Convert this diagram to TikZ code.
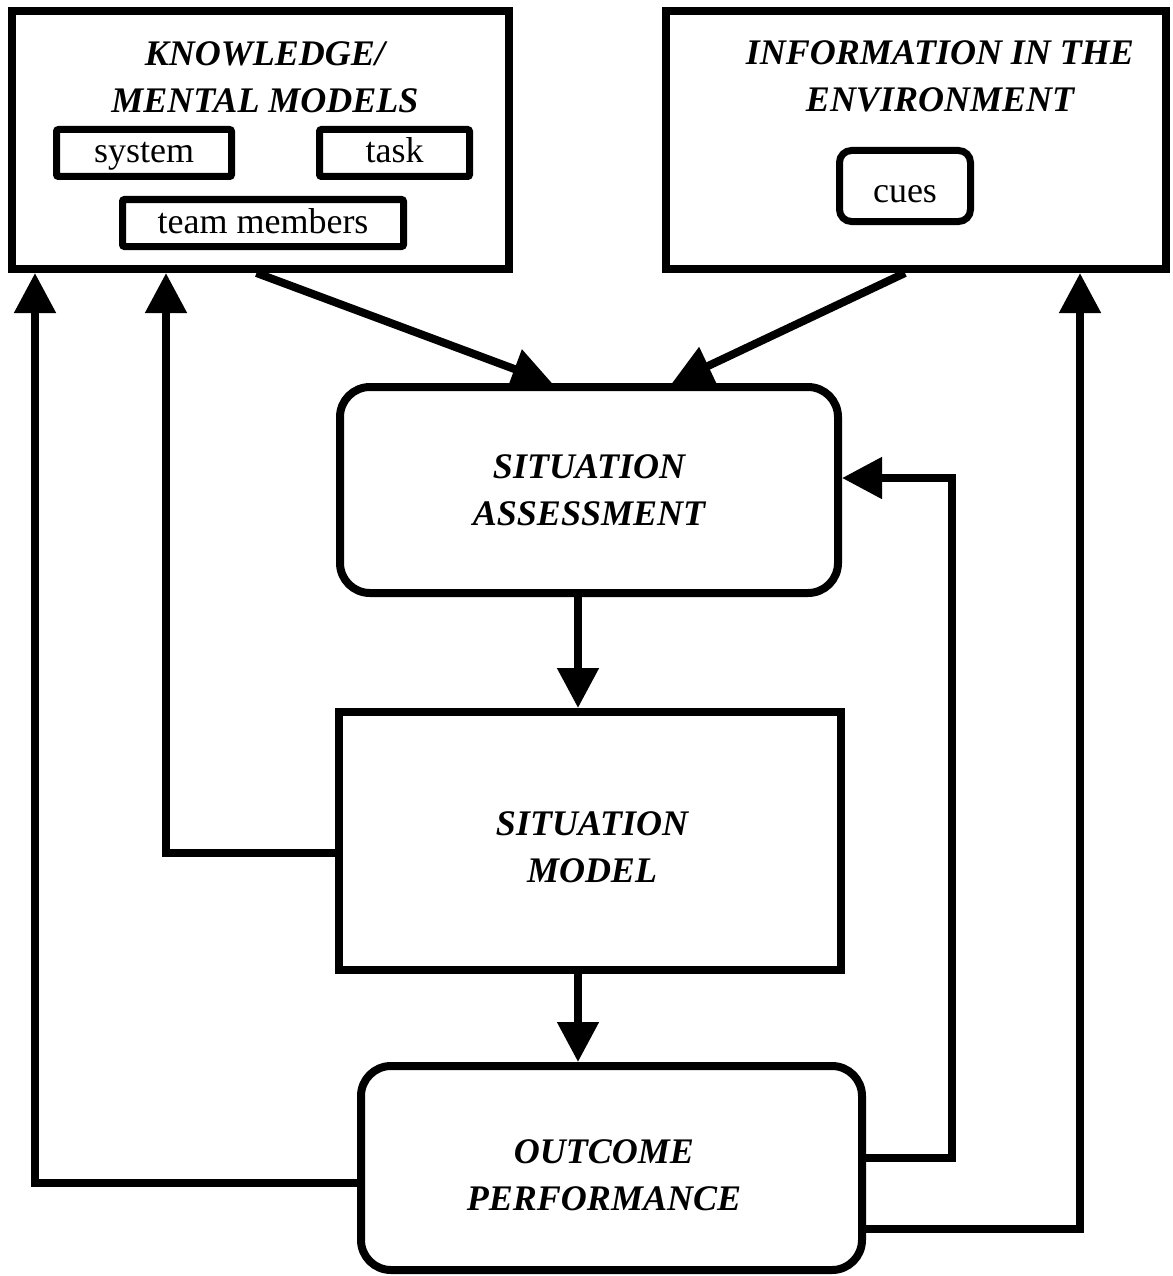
\documentclass[tikz,border=0pt]{standalone}
\usepackage{fontspec}
\setmainfont{Liberation Serif}
\usetikzlibrary{arrows.meta}
\tikzset{
  bigbox/.style={draw, line width=8pt, fill=white, inner sep=0pt, align=center,
    font=\fontsize{36}{47}\selectfont\bfseries\itshape},
  roundbox/.style={bigbox, rounded corners=30pt},
  titletext/.style={inner sep=0pt, align=center, font=\fontsize{36}{47}\selectfont\bfseries\itshape},
  smallbox/.style={draw, line width=7pt, fill=white, inner sep=0pt, rounded corners=2pt,
    font=\fontsize{36}{44}\selectfont, text height=27pt, text depth=7pt},
  arr/.style={line width=8pt, line join=miter, -{Triangle[length=40pt,width=40pt]}}
}
\begin{document}
\begin{tikzpicture}[x=1pt,y=-1pt]
\fill[white] (0,0) rectangle (1172,1276);
\useasboundingbox (0,0) rectangle (1172,1276);

% top boxes
\node[bigbox, minimum width=497pt, minimum height=258pt] (km) at (260.5,140) {};
\node[titletext] (kmt) at (265,77) {KNOWLEDGE/\\MENTAL MODELS};
\node[smallbox, minimum width=175pt, minimum height=47pt] (sys) at (144,153) {system};
\node[smallbox, minimum width=150pt, minimum height=47pt] (task) at (394.5,153) {task};
\node[smallbox, minimum width=281pt, minimum height=47pt] (team) at (263,223) {team members};

\node[bigbox, minimum width=500pt, minimum height=258pt] (ie) at (916,140) {};
\node[titletext] (iet) at (940,76) {INFORMATION IN THE\\ENVIRONMENT};
\node[smallbox, rounded corners=12pt, text height=41pt, minimum width=131pt, minimum height=71pt] (cues) at (905,186) {cues};

% main column
\node[roundbox, minimum width=498pt, minimum height=206pt] (sa) at (589,490) {SITUATION\\ASSESSMENT};
\node[bigbox, minimum width=502pt, minimum height=258pt] (sm) at (590,841) {};
\node[titletext] (smt) at (592,847) {SITUATION\\MODEL};
\node[roundbox, minimum width=501pt, minimum height=204pt] (op) at (611.5,1168) {};
\node[titletext] (opt) at (604,1175) {OUTCOME\\PERFORMANCE};

% helper coordinates
\coordinate (vx) at (578,0);
\coordinate (k1) at (35,0);
\coordinate (k2) at (166,0);
\coordinate (r1) at (952,0);
\coordinate (r2) at (1080,0);
\coordinate (saIn) at ([yshift=12pt]sa.east);

% connectors
\draw[arr] ([xshift=-4pt]km.south) -- ([xshift=-37pt]sa.north);
\draw[arr] ([xshift=-11pt]ie.south) -- ([xshift=83pt]sa.north);
\draw[arr] (sa.south -| vx) -- (sm.north -| vx);
\draw[arr] (sm.south -| vx) -- (op.north -| vx);
\draw[arr] ([yshift=-12pt]sm.west) -| (km.south -| k2);
\draw[arr] ([yshift=-15pt]op.west) -| (km.south -| k1);
\draw[arr] ([yshift=10pt]op.east) -| (saIn -| r1) -- (saIn);
\draw[arr] ([yshift=-61pt]op.east) -| (ie.south -| r2);
\end{tikzpicture}
\end{document}
